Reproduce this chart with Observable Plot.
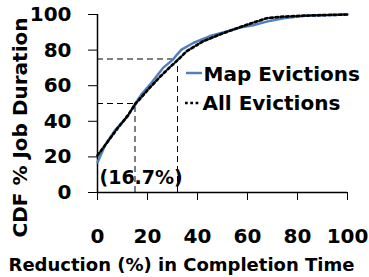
<!DOCTYPE html>
<html>
<head>
<meta charset="utf-8">
<script src="https://cdn.jsdelivr.net/npm/d3@7"></script>
<script src="https://cdn.jsdelivr.net/npm/@observablehq/plot@0.6"></script>
<style>
  html, body { margin: 0; padding: 0; background: white; }
</style>
</head>
<body>
<div id="chart"></div>
<script>
// Map Evictions CDF (blue solid)
const mapX = [0, 3, 6.8, 12.2, 14.9, 17.5, 21.5, 26.2, 30.3, 31.8, 33.6, 38.3, 45, 51.7, 57, 62.3, 67.7, 74.4, 82.5, 90, 100];
const mapY = [16.9, 26.4, 34.6, 43, 49.5, 55, 61.5, 70, 74.8, 77.5, 80.3, 84, 87.9, 90.5, 92.7, 94, 96, 97.9, 99.3, 99.6, 100];
// All Evictions CDF (black dotted)
const allX = [0, 4.4, 8, 12, 15, 20, 25, 29, 32.3, 35.6, 42.3, 50.3, 59.7, 67.7, 74.4, 84, 100];
const allY = [20.8, 29.2, 36, 43, 49.5, 57.5, 65, 70.5, 74.7, 79.3, 85, 89.5, 94.2, 97.9, 98.8, 99.4, 100];
// Percentile guide lines
const guideLevels = [50, 75];
const guideX = [15, 32];
// Ticks and labels
const xTicks = [0, 20, 40, 60, 80, 100];
const yTicks = [0, 20, 40, 60, 80, 100];
const seriesNames = ["Map Evictions", "All Evictions"];
const xTitle = "Reduction (%) in Completion Time";
const yTitle = "CDF % Job Duration";
const note = "(16.7%)";

const mapData = mapX.map((x, i) => ({x, y: mapY[i]}));
const allData = allX.map((x, i) => ({x, y: allY[i]}));
const guides = guideLevels.map((lv, i) => ({lv, x: guideX[i]}));

const FONT = "DejaVu Sans";
const blue = "#4f81bd";

const chart = Plot.plot({
  width: 369,
  height: 277,
  marginLeft: 97,
  marginRight: 22,
  marginTop: 14,
  marginBottom: 85,
  style: {fontFamily: FONT, fontSize: "20px", fontWeight: "bold", background: "white", color: "black"},
  x: {domain: [0, 100], ticks: xTicks, tickFormat: d => String(d), tickSize: 8, tickPadding: 28, label: null},
  y: {domain: [0, 100], ticks: yTicks, tickFormat: d => String(d), tickSize: 9, tickPadding: 17, label: null},
  marks: [
    // guides
    Plot.ruleY(guides, {y: "lv", x1: 0, x2: "x", stroke: "black", strokeWidth: 1, strokeDasharray: "6,4"}),
    Plot.ruleX(guides, {x: "x", y1: 0, y2: "lv", stroke: "black", strokeWidth: 1, strokeDasharray: "6,4"}),
    // axis lines
    Plot.ruleX([0], {stroke: "black", strokeWidth: 1.5}),
    Plot.ruleY([0], {stroke: "black", strokeWidth: 1.5}),
    // series
    Plot.line(mapData, {x: "x", y: "y", stroke: blue, strokeWidth: 2.5}),
    Plot.line(allData, {x: "x", y: "y", stroke: "black", strokeWidth: 2.7, strokeDasharray: "2.7,2.6"}),
    // annotation
    Plot.text([note], {frameAnchor: "bottom-left", textAnchor: "start", lineAnchor: "middle", dx: 2, dy: -15, fontSize: 19, fontWeight: "bold", fill: "black"}),
    // legend labels
    Plot.text([seriesNames[0]], {frameAnchor: "top-left", textAnchor: "start", lineAnchor: "middle", dx: 106, dy: 60, fontSize: 20, fontWeight: "bold", fill: "black"}),
    Plot.text([seriesNames[1]], {frameAnchor: "top-left", textAnchor: "start", lineAnchor: "middle", dx: 105, dy: 89, fontSize: 20, fontWeight: "bold", fill: "black"}),
    // axis titles
    Plot.text([xTitle], {frameAnchor: "bottom", textAnchor: "middle", lineAnchor: "middle", dx: -41, dy: 73, fontSize: 18, fontWeight: "bold", fill: "black"}),
    Plot.text([yTitle], {frameAnchor: "left", textAnchor: "middle", lineAnchor: "middle", rotate: -90, dx: -77, dy: 24, fontSize: 20, fontWeight: "bold", fill: "black"})
  ]
});

// legend swatches
const svg = d3.select(chart);
svg.append("line").attr("x1", 186).attr("x2", 202).attr("y1", 73).attr("y2", 73)
  .attr("stroke", blue).attr("stroke-width", 2.5);
svg.append("line").attr("x1", 185).attr("x2", 201).attr("y1", 103).attr("y2", 103)
  .attr("stroke", "black").attr("stroke-width", 2.7).attr("stroke-dasharray", "2.7,2.6");

document.getElementById("chart").appendChild(chart);
</script>
</body>
</html>
